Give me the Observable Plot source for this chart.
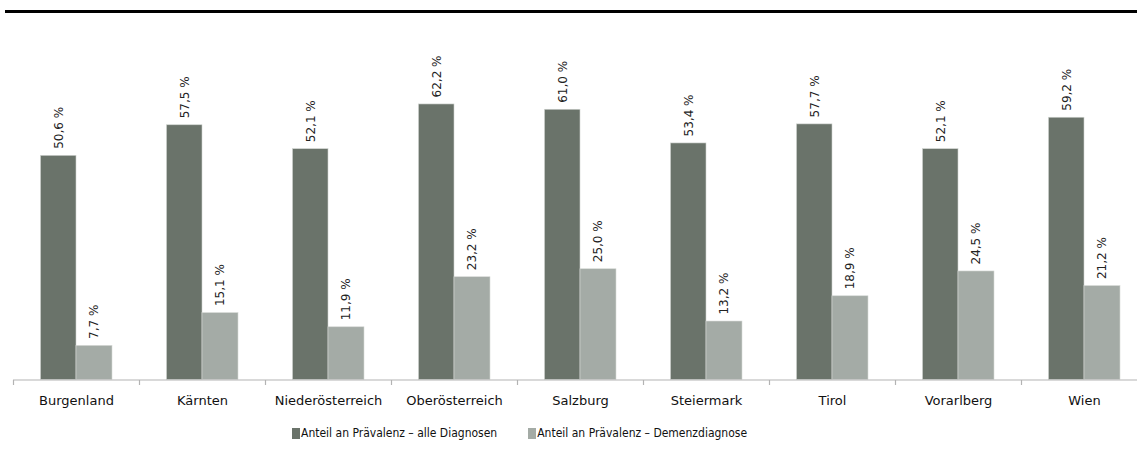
<!DOCTYPE html>
<html>
<head>
<meta charset="utf-8">
<script src="https://cdn.jsdelivr.net/npm/d3@7"></script>
<script src="https://cdn.jsdelivr.net/npm/@observablehq/plot@0.6"></script>
<style>
  html, body { margin: 0; padding: 0; background: #fff; }
  body { width: 1137px; height: 455px; position: relative; overflow: hidden; font-family: "DejaVu Sans", sans-serif; }
  #topline { position: absolute; left: 5px; top: 10px; width: 1132px; height: 3px; background: #000; }
  #chart { position: absolute; left: 0; top: 0; }
  #legend { position: absolute; left: 292px; top: 426px; display: flex; align-items: center; font-family: "DejaVu Sans Condensed", "DejaVu Sans", sans-serif; font-stretch: condensed; font-size: 12px; color: #111; white-space: pre; }
  .item { display: flex; align-items: center; }
  .sw { width: 8px; height: 11px; margin-right: 1px; }
</style>
</head>
<body>
<div id="chart"></div>
<div id="topline"></div>
<div id="legend"></div>
<script>
const regions = ["Burgenland", "Kärnten", "Niederösterreich", "Oberösterreich", "Salzburg", "Steiermark", "Tirol", "Vorarlberg", "Wien"];
const alleDiagnosen = [50.6, 57.5, 52.1, 62.2, 61.0, 53.4, 57.7, 52.1, 59.2];
const demenzDiagnose = [7.7, 15.1, 11.9, 23.2, 25.0, 13.2, 18.9, 24.5, 21.2];
const seriesNames = ["Anteil an Prävalenz – alle Diagnosen", "Anteil an Prävalenz – Demenzdiagnose"];
const seriesColors = ["#6a736a", "#a4aba6"];

const dataA = regions.map((r, i) => ({region: r, value: alleDiagnosen[i]}));
const dataD = regions.map((r, i) => ({region: r, value: demenzDiagnose[i]}));
const fmt = v => v.toFixed(1).replace(".", ",") + " %";

const chart = Plot.plot({
  width: 1137,
  height: 420,
  marginTop: 0,
  marginLeft: 13,
  marginRight: 0,
  marginBottom: 40,
  x: {type: "band", domain: regions, range: [13, 1147], padding: 0, label: null},
  y: {domain: [0, 70], range: [379.5, 379.5 - 70 * 4.43], axis: null, label: null},
  style: {fontFamily: "DejaVu Sans, sans-serif", overflow: "visible"},
  marks: [
    Plot.barY(dataA, {x: "region", y: "value", fill: seriesColors[0], insetLeft: 27.5, insetRight: 63, stroke: "#cfd3cf", strokeWidth: 0.6}),
    Plot.barY(dataD, {x: "region", y: "value", fill: seriesColors[1], insetLeft: 63, insetRight: 27, stroke: "#d6d9d6", strokeWidth: 0.6}),
    Plot.ruleY([0], {stroke: "#b3b3b3", strokeWidth: 1.2}),
    Plot.axisX({tickSize: 5, tickFormat: () => "", dx: -63, stroke: "#b3b3b3", strokeWidth: 1.2, label: null}),
    Plot.axisX({tickSize: 0, tickPadding: 15, fontSize: 13, fill: "#111", label: null}),
    Plot.text(dataA, {x: "region", y: "value", text: d => fmt(d.value), rotate: -90, textAnchor: "start", dx: -17.7, dy: -7, fontSize: 12, fill: "#222"}),
    Plot.text(dataD, {x: "region", y: "value", text: d => fmt(d.value), rotate: -90, textAnchor: "start", dx: 18, dy: -7, fontSize: 12, fill: "#222"})
  ]
});
document.getElementById("chart").appendChild(chart);

const legend = document.getElementById("legend");
seriesNames.forEach((name, i) => {
  const item = document.createElement("div");
  item.className = "item";
  if (i > 0) item.style.marginLeft = "31px";
  const sw = document.createElement("div");
  sw.className = "sw";
  sw.style.background = seriesColors[i];
  const t = document.createElement("span");
  t.textContent = name;
  item.appendChild(sw);
  item.appendChild(t);
  legend.appendChild(item);
});
</script>
</body>
</html>
